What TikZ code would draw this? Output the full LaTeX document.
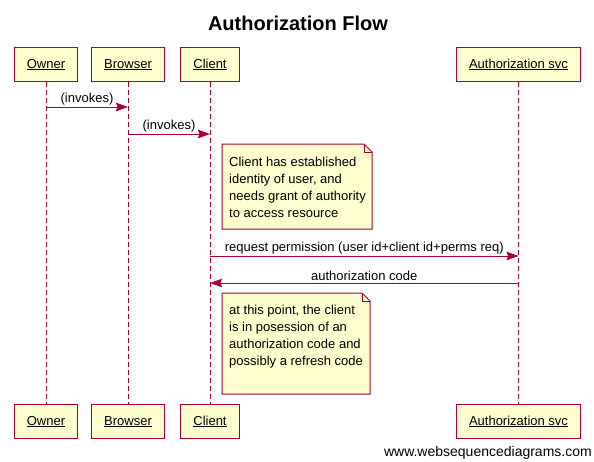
\documentclass[tikz,border=0pt]{standalone}
\usepackage{fontspec}
\setmainfont{Liberation Sans}
\usepackage{tikz}
\usetikzlibrary{arrows.meta}
\definecolor{wsdred}{HTML}{A80036}
\definecolor{wsdfill}{HTML}{FEFECE}

\begin{document}
\begin{tikzpicture}[x=1pt,y=-1pt,
        actor/.style={draw=wsdred,fill=wsdfill,line width=1pt,minimum height=34pt,inner xsep=12.5pt,text height=10pt,text depth=2pt,font=\fontsize{13}{15}\selectfont},
        lifeline/.style={draw=wsdred,line width=1pt,dash pattern=on 5pt off 3pt},
        msg/.style={draw=wsdred,line width=1pt,-{Stealth[length=12pt,width=8.5pt,inset=1.5pt]}},
        msgtext/.style={font=\fontsize{13}{15}\selectfont,inner sep=1.5pt,above},
        note/.style={draw=wsdred,fill=wsdfill,line width=1pt,line join=miter},
        notetext/.style={font=\fontsize{13}{17}\selectfont,align=left,inner sep=0pt,anchor=north west}]
        \useasboundingbox (0,0) rectangle (594,461);
        % 标题
        \node (title) at (298,23.5) {\fontsize{20}{24}\selectfont\bfseries Authorization Flow};
        % 参与者 (上)
        \node [actor] (owner) at (46,64) {\underline{Owner}};
        \node [actor] (browser) at (128,64) {\underline{Browser}};
        \node [actor] (client) at (210,64) {\underline{Client}};
        \node [actor] (authsvc) at (518.5,64) {\underline{Authorization svc}};
        % 参与者 (下)
        \node [actor] (owner-b) at (46,421) {\underline{Owner}};
        \node [actor] (browser-b) at (128,421) {\underline{Browser}};
        \node [actor] (client-b) at (210,421) {\underline{Client}};
        \node [actor] (authsvc-b) at (518.5,421) {\underline{Authorization svc}};
        % 生命线
        \draw [lifeline] (owner) -- (owner-b);
        \draw [lifeline] (browser) -- (browser-b);
        \draw [lifeline] (client) -- (client-b);
        \draw [lifeline] (authsvc) -- (authsvc-b);
        % 消息
        \coordinate (m1a) at (owner |- 0,107);
        \coordinate (m1b) at (browser |- 0,107);
        \draw [msg] (m1a) -- node [msgtext] {(invokes)} (m1b);
        \coordinate (m2a) at (browser |- 0,134);
        \coordinate (m2b) at (client |- 0,134);
        \draw [msg] (m2a) -- node [msgtext] {(invokes)} (m2b);
        \coordinate (m3a) at (client |- 0,256);
        \coordinate (m3b) at (authsvc |- 0,256);
        \draw [msg] (m3a) -- node [msgtext] {request permission (user id+client id+perms req)} (m3b);
        \coordinate (m4a) at (authsvc |- 0,283);
        \coordinate (m4b) at (client |- 0,283);
        \draw [msg] (m4a) -- node [msgtext] {authorization code} (m4b);
        % 注释1
        \draw [note] (222,144) -- (364,144) -- (372,152) -- (372,229) -- (222,229) -- cycle;
        \draw [note,fill=none] (364,144) -- (364,152) -- (372,152);
        \node [notetext] (note1) at (229,157) {Client has established\\identity of user, and\\needs grant of authority\\to access resource};
        % 注释2
        \draw [note] (222,293) -- (362,293) -- (370,301) -- (370,394) -- (222,394) -- cycle;
        \draw [note,fill=none] (362,293) -- (362,301) -- (370,301);
        \node [notetext] (note2) at (229,305) {at this point, the client\\is in posession of an\\authorization code and\\possibly a refresh code};
        % 页脚
        \node [anchor=east,inner sep=0pt] (footer) at (592,453) {\fontsize{14}{16}\selectfont www.websequencediagrams.com};
    \end{tikzpicture}
\end{document}
